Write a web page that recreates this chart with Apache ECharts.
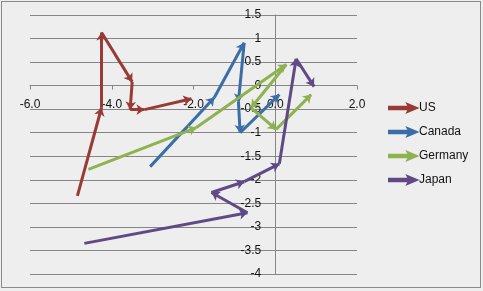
<!DOCTYPE html>
<html>
<head>
<meta charset="utf-8">
<script src="https://cdn.jsdelivr.net/npm/echarts@6/dist/echarts.min.js"></script>
<style>
  html, body { margin: 0; padding: 0; background: #eeeeee; }
  #main { position: absolute; left: 0; top: 0; width: 483px; height: 291px; }
  #frame { position: absolute; left: 1px; top: 1px; width: 478px; height: 285px;
           border: 1px solid #8a8a8a; pointer-events: none; }
</style>
</head>
<body>
<div id="main"></div>
<div id="frame"></div>
<script>
// path of each country
var countries = ['US', 'Canada', 'Germany', 'Japan'];
var colors = ['#983a36', '#3b6ea6', '#8db24f', '#5f4a85'];

var usX = [-4.84, -4.25, -4.25, -3.50, -3.55, -3.20, -2.05];
var usY = [-2.34, -0.47, 1.13, 0.08, -0.51, -0.51, -0.28];

var canadaX = [-3.06, -1.49, -0.76, -0.90, -0.86, 0.10];
var canadaY = [-1.72, -0.25, 0.91, -0.34, -1.00, -0.19];

var germanyX = [-4.57, -1.93, 0.27, -0.59, 0.02, 0.88];
var germanyY = [-1.78, -0.89, 0.45, -0.47, -0.93, -0.19];

var japanX = [-4.67, -0.68, -1.56, -0.76, 0.10, 0.51, 0.95];
var japanY = [-3.35, -2.70, -2.27, -2.04, -1.66, 0.57, -0.02];

var xMin = -6, xMax = 2, xStep = 2;
var yMin = -4, yMax = 1.5, yStep = 0.5;

var paths = [[usX, usY], [canadaX, canadaY], [germanyX, germanyY], [japanX, japanY]];

// every step of a path is its own segment so each one ends in an arrow
function segments(xs, ys) {
    var out = [];
    for (var i = 1; i < xs.length; i++) {
        out.push({ coords: [[xs[i - 1], ys[i - 1]], [xs[i], ys[i]]] });
    }
    return out;
}

var arrowIcon = 'path://M0,2.8L20,2.8L18.5,0L28,4L18.5,8L20,5.2L0,5.2Z';

var chart = echarts.init(document.getElementById('main'));

var series = countries.map(function(name, k) {
    return {
        name: name,
        type: 'lines',
        coordinateSystem: 'cartesian2d',
        symbol: ['none', 'arrow'],
        symbolSize: 8,
        silent: true,
        itemStyle: { color: colors[k] },
        lineStyle: { color: colors[k], width: 3, opacity: 1, curveness: 0 },
        data: segments(paths[k][0], paths[k][1])
    };
});

var option = {
    animation: false,
    backgroundColor: '#eeeeee',
    textStyle: { fontFamily: 'Liberation Sans' },
    grid: { left: 30, right: 126, top: 15, bottom: 17, containLabel: false, outerBoundsMode: 'none' },
    legend: {
        orient: 'vertical',
        left: 388,
        top: 102,
        padding: 0,
        itemGap: 12,
        itemWidth: 28,
        itemHeight: 8,
        icon: arrowIcon,
        textStyle: { fontSize: 12, color: '#111', padding: [0, 0, 0, -3] },
        data: countries.map(function(name, k) {
            return { name: name, itemStyle: { color: colors[k] } };
        })
    },
    xAxis: {
        type: 'value',
        min: xMin,
        max: xMax,
        interval: xStep,
        axisLine: { onZero: false, lineStyle: { color: '#868686', width: 1 } },
        axisTick: { show: true, length: 4, lineStyle: { color: '#868686' } },
        axisLabel: {
            margin: 13,
            fontSize: 12,
            color: '#111',
            formatter: function(v) { return v.toFixed(1); }
        },
        splitLine: { show: false }
    },
    yAxis: {
        type: 'value',
        min: yMin,
        max: yMax,
        interval: yStep,
        axisLine: { onZero: false, lineStyle: { color: '#868686', width: 1 } },
        axisTick: { show: false },
        axisLabel: { margin: 14, fontSize: 12, color: '#111' },
        splitLine: { show: true, lineStyle: { color: '#868686', width: 1 } }
    },
    series: series
};

chart.setOption(option);

// axes cross at zero: shift each axis from the plot edge to the zero line
var corner = chart.convertToPixel({ gridIndex: 0 }, [xMin, yMin]);
var zero = chart.convertToPixel({ gridIndex: 0 }, [0, 0]);
chart.setOption({
    xAxis: { offset: -(corner[1] - zero[1]) },
    yAxis: { offset: -(zero[0] - corner[0]) }
});
</script>
</body>
</html>
